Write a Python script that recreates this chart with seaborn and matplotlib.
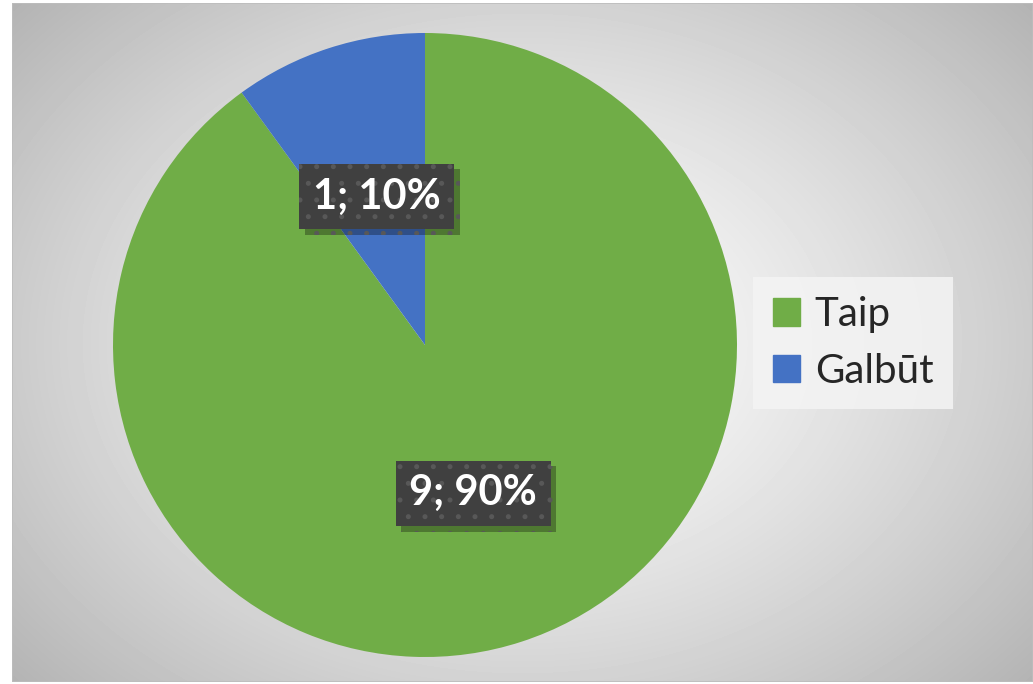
import numpy as np
import matplotlib
matplotlib.use('Agg')
import matplotlib.pyplot as plt
import matplotlib.patches as mpatches
import matplotlib.patheffects as pe
import seaborn as sns

# data
labels = ['Taip', 'Galbūt']
counts = [9, 1]
colors = ['#70AD47', '#4472C4']

sns.set_style('white')
plt.rcParams['font.family'] = ['Lato', 'DejaVu Sans']
plt.rcParams['hatch.linewidth'] = 1.2

W, H = 1033, 684
fig = plt.figure(figsize=(W / 100, H / 100), dpi=100, facecolor='white')

# radial grey background of the chart area
bg = fig.add_axes([12 / W, 2 / H, (W - 12) / W, (682 - 3) / H])
bg.set_axis_off()
yy, xx = np.mgrid[0:679, 0:1021]
d = np.hypot((xx - 510) / 560, (yy - 340) / 420)
shade = 1 - 0.23 * np.clip(d, 0, 1.3) ** 1.3
bg.imshow(shade, cmap='gray', vmin=0, vmax=1, aspect='auto',
          extent=(0, 1, 0, 1), interpolation='bilinear')
bg.add_patch(mpatches.Rectangle((0, 0), 1, 1, transform=bg.transAxes,
                                fill=False, edgecolor='#bdbdbd', lw=1.2))

# pie
cx, cy, r = 425, 345, 312
ax = fig.add_axes([(cx - r) / W, (H - cy - r) / H, 2 * r / W, 2 * r / H])
total = sum(counts)


def fmt(p):
    n = int(round(p * total / 100))
    return f'{n}; {p:.0f}%'


wedges, texts, autotexts = ax.pie(counts, colors=colors, startangle=90,
                                  counterclock=False, autopct=fmt,
                                  pctdistance=0.5, radius=1,
                                  wedgeprops=dict(linewidth=0))
ax.set_xlim(-1, 1)
ax.set_ylim(-1, 1)
ax.set_aspect('equal')

for t in autotexts:
    t.set_color('white')
    t.set_fontsize(30)
    t.set_fontweight('bold')
    t.set_bbox(dict(boxstyle='square,pad=0.33', facecolor='#404040',
                    edgecolor='#585858', linewidth=0, hatch='.'))
    t.get_bbox_patch().set_path_effects([
        pe.SimplePatchShadow(offset=(4, -4), shadow_rgbFace='black', alpha=0.3),
        pe.Normal()])

handles = [mpatches.Patch(color=c) for c in colors]
leg = fig.legend(handles, labels, loc='center',
                 bbox_to_anchor=(853 / W, 1 - 343 / H), fontsize=29,
                 frameon=True, facecolor='#f4f4f4', edgecolor='none',
                 framealpha=0.85, fancybox=False, handlelength=0.68,
                 handleheight=0.68, handletextpad=0.36, labelspacing=0.48,
                 borderpad=0.48)

fig.savefig('out.png', dpi=100, facecolor='white')
